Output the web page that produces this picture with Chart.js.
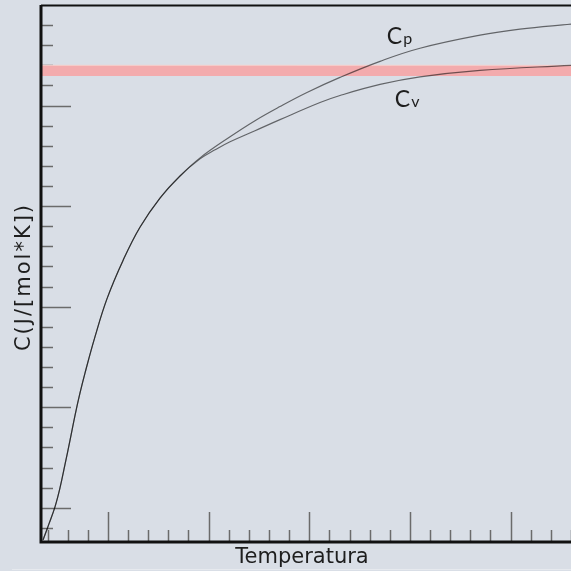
<!DOCTYPE html>
<html>
<head>
<meta charset="utf-8">
<script src="https://cdn.jsdelivr.net/npm/chart.js@4"></script>
<style>
  html, body { margin: 0; padding: 0; background: #d9dee6; }
  canvas { display: block; }
</style>
</head>
<body>
<canvas id="chart" width="571" height="571"></canvas>
<script>
// curvas de capacidade calorifica
const tempCp = [35.5, 41.4, 47.4, 52.4, 57.3, 62.3, 67.3, 72.2, 77.2, 87.1, 99.1, 115.0, 131.8, 151.7, 171.6, 191.5, 221.3, 246.1, 270.9, 297.7, 330.5, 370.3, 410.0, 469.6, 509.3, 560.0];
const valoresCp = [6.8, 8.4, 10.1, 12.0, 14.3, 16.7, 19.2, 21.4, 23.4, 27.0, 30.8, 34.6, 37.9, 40.8, 43.0, 44.8, 46.9, 48.5, 49.9, 51.3, 52.8, 54.4, 55.7, 57.0, 57.6, 58.1];
const tempCv = [35.5, 41.4, 47.4, 52.4, 57.3, 62.3, 67.3, 72.2, 77.2, 87.1, 99.1, 115.0, 131.8, 151.7, 171.6, 191.5, 206.4, 221.3, 246.1, 270.9, 310.7, 330.5, 370.3, 410.0, 469.6, 560.0];
const valoresCv = [6.8, 8.4, 10.1, 12.0, 14.3, 16.7, 19.2, 21.4, 23.4, 27.0, 30.8, 34.6, 37.9, 40.8, 43.0, 44.7, 45.6, 46.4, 47.5, 48.6, 50.3, 51.0, 52.1, 52.85, 53.5, 54.0];

// faixa horizontal (limite classico)
const faixa = [52.95, 54.0];

const eixoX = { min: 33.5, max: 560, passoMenor: 20, passoMaior: 100 };
const eixoY = { min: 6.6, max: 60, passoMenor: 2, passoMaior: 10 };

const rotulos = [
    { texto: 'C', sub: 'p', x: 377, y: 56.1 },
    { texto: 'C', sub: 'v', x: 385, y: 49.9 },
];

const pontos = (xs, ys) => xs.map((x, i) => ({ x, y: ys[i] }));

const decoracao = {
    id: 'decoracao',
    beforeDatasetsDraw(chart) {
        const { ctx, chartArea: a, scales: { x, y } } = chart;
        ctx.save();
        ctx.strokeStyle = '#6b6b6b';
        ctx.lineWidth = 1.5;
        ctx.beginPath();
        for (let v = 40; v <= eixoX.max; v += eixoX.passoMenor) {
            const px = Math.round(x.getPixelForValue(v)) + 0.5;
            const len = v % eixoX.passoMaior === 0 ? 30 : 12;
            ctx.moveTo(px, a.bottom);
            ctx.lineTo(px, a.bottom - len);
        }
        for (let v = 8; v < eixoY.max; v += eixoY.passoMenor) {
            const py = Math.round(y.getPixelForValue(v)) + 0.5;
            const len = v % eixoY.passoMaior === 0 ? 30 : 12;
            ctx.moveTo(a.left, py);
            ctx.lineTo(a.left + len, py);
        }
        ctx.stroke();
        ctx.restore();
    },
    afterDraw(chart) {
        const { ctx, chartArea: a, scales: { x, y } } = chart;
        ctx.save();
        ctx.strokeStyle = '#111';
        ctx.lineWidth = 3;
        ctx.beginPath();
        ctx.moveTo(a.left, a.top);
        ctx.lineTo(a.left, a.bottom);
        ctx.lineTo(a.right, a.bottom);
        ctx.stroke();
        ctx.lineWidth = 2;
        ctx.beginPath();
        ctx.moveTo(a.left, a.top + 0.5);
        ctx.lineTo(a.right, a.top + 0.5);
        ctx.stroke();

        ctx.strokeStyle = '#e6e9ee';
        ctx.lineWidth = 1;
        ctx.beginPath();
        ctx.moveTo(12, 569.5);
        ctx.lineTo(571, 569.5);
        ctx.stroke();

        ctx.fillStyle = '#1e1e1e';
        ctx.font = '21px "DejaVu Sans"';
        ctx.textAlign = 'center';
        ctx.textBaseline = 'alphabetic';
        ctx.fillText('Temperatura', 302, 563);

        ctx.save();
        ctx.translate(29.5, 277);
        ctx.rotate(-Math.PI / 2);
        ctx.letterSpacing = '2px';
        ctx.fillText('C(J/[mol*K])', 0, 0);
        ctx.restore();

        ctx.textAlign = 'left';
        rotulos.forEach(r => {
            const px = x.getPixelForValue(r.x);
            const py = y.getPixelForValue(r.y);
            ctx.font = '23px Lato';
            ctx.fillText(r.texto, px, py);
            const w = ctx.measureText(r.texto).width;
            ctx.font = '16px Lato';
            ctx.fillText(r.sub, px + w + 1, py);
        });
        ctx.restore();
    }
};

const ctxC = document.getElementById('chart').getContext('2d');
new Chart(ctxC, {
    type: 'line',
    data: {
        datasets: [
            {
                label: 'Cp',
                data: pontos(tempCp, valoresCp),
                borderColor: 'rgba(0,0,0,0.55)',
                borderWidth: 1.2,
                pointRadius: 0,
                tension: 0.4,
                fill: false,
            },
            {
                label: 'Cv',
                data: pontos(tempCv, valoresCv),
                borderColor: 'rgba(0,0,0,0.55)',
                borderWidth: 1.2,
                pointRadius: 0,
                tension: 0.4,
                fill: false,
            },
            {
                label: 'faixa',
                data: [{ x: eixoX.min, y: faixa[1] }, { x: eixoX.max, y: faixa[1] }],
                borderColor: '#f6cfcc',
                borderWidth: 1,
                backgroundColor: '#f3abad',
                pointRadius: 0,
                fill: { value: faixa[0] },
            },
        ],
    },
    options: {
        responsive: false,
        animation: false,
        layout: { padding: { left: 41, top: 5, right: 0, bottom: 29 } },
        plugins: { legend: { display: false }, tooltip: { enabled: false } },
        scales: {
            x: { type: 'linear', min: eixoX.min, max: eixoX.max, display: false },
            y: { type: 'linear', min: eixoY.min, max: eixoY.max, display: false },
        },
    },
    plugins: [decoracao],
});
</script>
</body>
</html>
